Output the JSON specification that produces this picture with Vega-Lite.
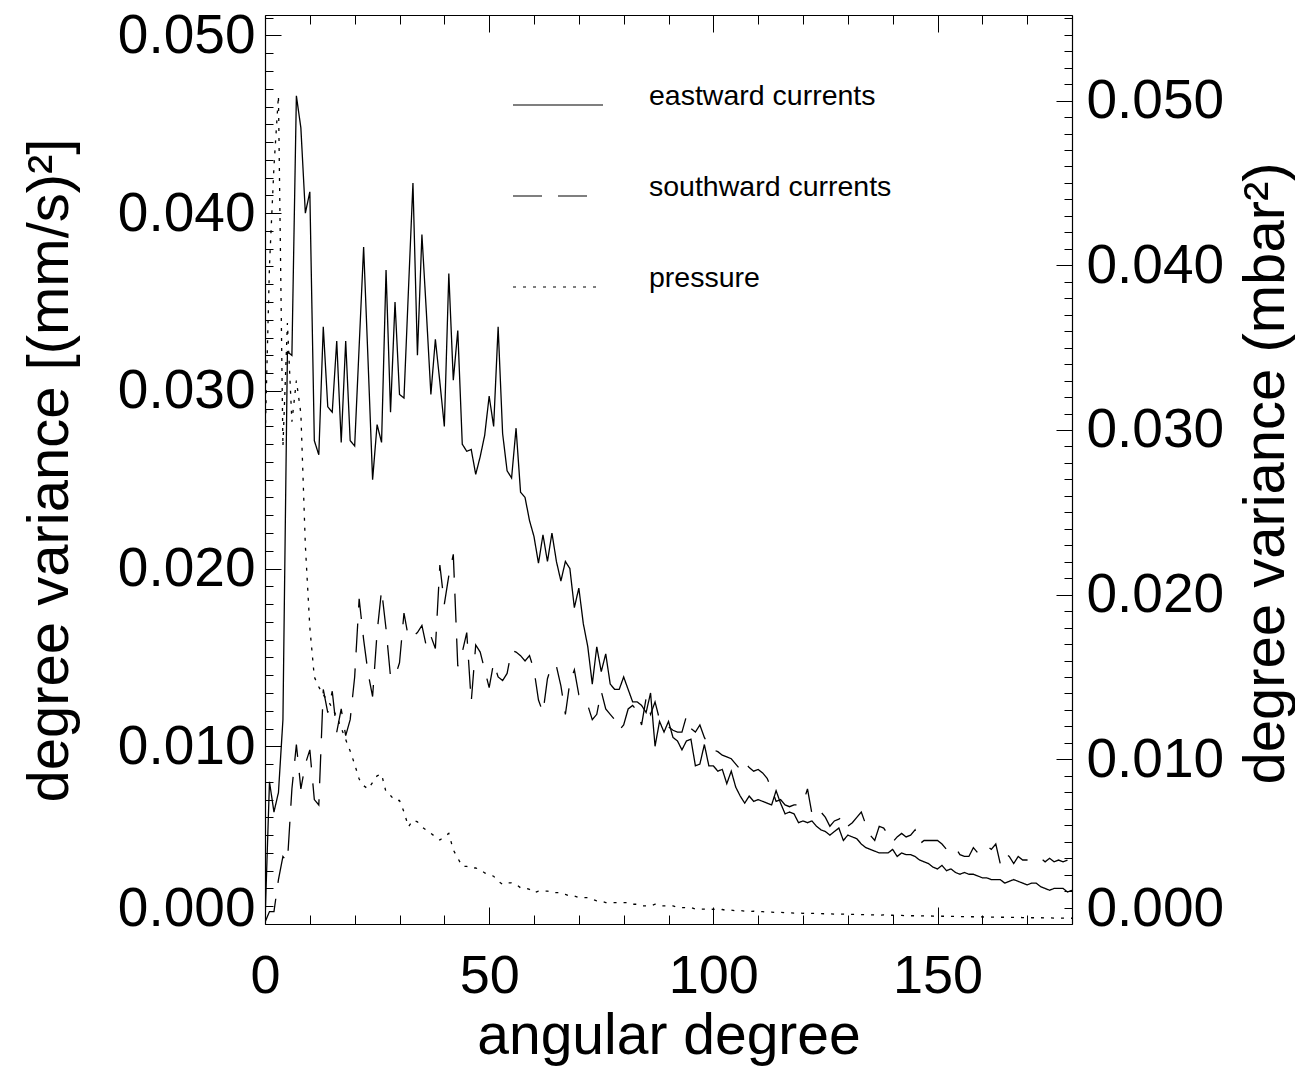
{
"$schema": "https://vega.github.io/schema/vega-lite/v6.json",
"width": 807, "height": 909,
"autosize": {"type": "none"},
"padding": {"left": 265, "top": 15, "right": 223, "bottom": 143},
"background": "white",
"config": {
 "view": {"stroke": null},
 "axis": {"labelFont": "Liberation Sans", "titleFont": "Liberation Sans", "labelColor": "black", "titleColor": "black", "domainColor": "black", "tickColor": "black", "titleFontWeight": "normal", "grid": false, "domainWidth": 1.2, "tickWidth": 1, "labelOverlap": false}
},
"data": {"values": [
{"d":0,"e":0.0001,"s":0.0001,"p":0.0292},
{"d":1,"e":0.0080,"s":0.0007,"p":0.0400},
{"d":2,"e":0.0063,"s":0.0007,"p":0.0460},
{"d":3,"e":0.0074,"s":0.0025,"p":0.0503},
{"d":4,"e":0.0115,"s":0.0038,"p":0.0290},
{"d":5,"e":0.0322,"s":0.0035,"p":0.0365},
{"d":6,"e":0.0320,"s":0.0076,"p":0.0305},
{"d":7,"e":0.0466,"s":0.0101,"p":0.0330},
{"d":8,"e":0.0448,"s":0.0076,"p":0.0310},
{"d":9,"e":0.0400,"s":0.0090,"p":0.0230},
{"d":10,"e":0.0412,"s":0.0098,"p":0.0180},
{"d":11,"e":0.0272,"s":0.0070,"p":0.0150},
{"d":12,"e":0.0264,"s":0.0067,"p":0.0144},
{"d":13,"e":0.0336,"s":0.0132,"p":0.0139},
{"d":14,"e":0.0291,"s":0.0119,"p":0.0136},
{"d":15,"e":0.0288,"s":0.0131,"p":0.0131},
{"d":16,"e":0.0328,"s":0.0108,"p":0.0126},
{"d":17,"e":0.0271,"s":0.0121,"p":0.0119},
{"d":18,"e":0.0328,"s":0.0106,"p":0.0112},
{"d":19,"e":0.0272,"s":0.0115,"p":0.0105},
{"d":20,"e":0.0269,"s":0.0139,"p":0.0097},
{"d":21,"e":0.0325,"s":0.0183,"p":0.0088},
{"d":22,"e":0.0381,"s":0.0160,"p":0.0084},
{"d":23,"e":0.0316,"s":0.0141,"p":0.0082},
{"d":24,"e":0.0250,"s":0.0128,"p":0.0086},
{"d":25,"e":0.0281,"s":0.0164,"p":0.0090},
{"d":26,"e":0.0271,"s":0.0188,"p":0.0091},
{"d":27,"e":0.0368,"s":0.0166,"p":0.0080},
{"d":28,"e":0.0288,"s":0.0139,"p":0.0078},
{"d":29,"e":0.0350,"s":0.0139,"p":0.0075},
{"d":30,"e":0.0298,"s":0.0147,"p":0.0075},
{"d":31,"e":0.0296,"s":0.0175,"p":0.0068},
{"d":32,"e":0.0357,"s":0.0161,"p":0.0059},
{"d":33,"e":0.0417,"s":0.0162,"p":0.0063},
{"d":34,"e":0.0320,"s":0.0164,"p":0.0062},
{"d":35,"e":0.0388,"s":0.0168,"p":0.0059},
{"d":36,"e":0.0344,"s":0.0156,"p":0.0057},
{"d":37,"e":0.0298,"s":0.0162,"p":0.0055},
{"d":38,"e":0.0329,"s":0.0155,"p":0.0053},
{"d":39,"e":0.0305,"s":0.0202,"p":0.0051},
{"d":40,"e":0.0280,"s":0.0180,"p":0.0053},
{"d":41,"e":0.0366,"s":0.0196,"p":0.0055},
{"d":42,"e":0.0306,"s":0.0208,"p":0.0045},
{"d":43,"e":0.0334,"s":0.0145,"p":0.0040},
{"d":44,"e":0.0270,"s":0.0153,"p":0.0035},
{"d":45,"e":0.0266,"s":0.0164,"p":0.0035},
{"d":46,"e":0.0267,"s":0.0125,"p":0.0034},
{"d":47,"e":0.0253,"s":0.0157,"p":0.0034},
{"d":48,"e":0.0263,"s":0.0153,"p":0.0033},
{"d":49,"e":0.0275,"s":0.0143,"p":0.0031},
{"d":50,"e":0.0297,"s":0.0133,"p":0.0030},
{"d":51,"e":0.0280,"s":0.0147,"p":0.0029},
{"d":52,"e":0.0336,"s":0.0139,"p":0.0026},
{"d":53,"e":0.0276,"s":0.0137,"p":0.0024},
{"d":54,"e":0.0255,"s":0.0141,"p":0.0025},
{"d":55,"e":0.0251,"s":0.0154,"p":0.0025},
{"d":56,"e":0.0279,"s":0.0153,"p":0.0024},
{"d":57,"e":0.0243,"s":0.0151,"p":0.0022},
{"d":58,"e":0.0240,"s":0.0148,"p":0.0022},
{"d":59,"e":0.0227,"s":0.0151,"p":0.0021},
{"d":60,"e":0.0218,"s":0.0143,"p":0.0019},
{"d":61,"e":0.0203,"s":0.0126,"p":0.0020},
{"d":62,"e":0.0219,"s":0.0119,"p":0.0020},
{"d":63,"e":0.0204,"s":0.0138,"p":0.0020},
{"d":64,"e":0.0220,"s":0.0146,"p":0.0019},
{"d":65,"e":0.0204,"s":0.0145,"p":0.0019},
{"d":66,"e":0.0193,"s":0.0134,"p":0.0019},
{"d":67,"e":0.0204,"s":0.0118,"p":0.0018},
{"d":68,"e":0.0200,"s":0.0136,"p":0.0017},
{"d":69,"e":0.0178,"s":0.0143,"p":0.0017},
{"d":70,"e":0.0189,"s":0.0129,"p":0.0016},
{"d":71,"e":0.0169,"s":0.0126,"p":0.0016},
{"d":72,"e":0.0156,"s":0.0123,"p":0.0016},
{"d":73,"e":0.0135,"s":0.0115,"p":0.0015},
{"d":74,"e":0.0156,"s":0.0118,"p":0.0014},
{"d":75,"e":0.0142,"s":0.0131,"p":0.0014},
{"d":76,"e":0.0152,"s":0.0121,"p":0.0013},
{"d":77,"e":0.0135,"s":0.0118,"p":0.0013},
{"d":78,"e":0.0132,"s":0.0115,"p":0.0013},
{"d":79,"e":0.0132,"s":0.0109,"p":0.0013},
{"d":80,"e":0.0139,"s":0.0112,"p":0.0013},
{"d":81,"e":0.0132,"s":0.0121,"p":0.0013},
{"d":82,"e":0.0125,"s":0.0123,"p":0.0012},
{"d":83,"e":0.0125,"s":0.0120,"p":0.0012},
{"d":84,"e":0.0123,"s":0.0112,"p":0.0011},
{"d":85,"e":0.0119,"s":0.0127,"p":0.0011},
{"d":86,"e":0.0130,"s":0.0118,"p":0.0011},
{"d":87,"e":0.0100,"s":0.0125,"p":0.0012},
{"d":88,"e":0.0114,"s":0.0115,"p":0.0011},
{"d":89,"e":0.0108,"s":0.0113,"p":0.0011},
{"d":90,"e":0.0114,"s":0.0111,"p":0.0011},
{"d":91,"e":0.0105,"s":0.0109,"p":0.0011},
{"d":92,"e":0.0103,"s":0.0108,"p":0.0010},
{"d":93,"e":0.0098,"s":0.0108,"p":0.0010},
{"d":94,"e":0.0103,"s":0.0117,"p":0.0010},
{"d":95,"e":0.0104,"s":0.0110,"p":0.0010},
{"d":96,"e":0.0089,"s":0.0108,"p":0.0009},
{"d":97,"e":0.0090,"s":0.0112,"p":0.0009},
{"d":98,"e":0.0101,"s":0.0105,"p":0.0009},
{"d":99,"e":0.0089,"s":0.0100,"p":0.00085},
{"d":100,"e":0.0089,"s":0.0098,"p":0.0009},
{"d":101,"e":0.0086,"s":0.0097,"p":0.00085},
{"d":102,"e":0.0087,"s":0.0095,"p":0.00088},
{"d":103,"e":0.0079,"s":0.0094,"p":0.00082},
{"d":104,"e":0.0086,"s":0.0093,"p":0.00085},
{"d":105,"e":0.0077,"s":0.0090,"p":0.0008},
{"d":106,"e":0.0072,"s":0.0087,"p":0.00082},
{"d":107,"e":0.0068,"s":0.0091,"p":0.00078},
{"d":108,"e":0.0072,"s":0.0088,"p":0.00076},
{"d":109,"e":0.0069,"s":0.0086,"p":0.00078},
{"d":110,"e":0.0070,"s":0.0087,"p":0.00074},
{"d":111,"e":0.0069,"s":0.0085,"p":0.00075},
{"d":112,"e":0.0068,"s":0.0082,"p":0.00072},
{"d":113,"e":0.0067,"s":0.0076,"p":0.00072},
{"d":114,"e":0.0075,"s":0.0069,"p":0.0007},
{"d":115,"e":0.0068,"s":0.0070,"p":0.00071},
{"d":116,"e":0.0062,"s":0.0067,"p":0.00068},
{"d":117,"e":0.0063,"s":0.0066,"p":0.00068},
{"d":118,"e":0.0062,"s":0.0067,"p":0.00066},
{"d":119,"e":0.0057,"s":0.0067,"p":0.00067},
{"d":120,"e":0.0058,"s":0.0068,"p":0.00065},
{"d":121,"e":0.0057,"s":0.0076,"p":0.00066},
{"d":122,"e":0.0058,"s":0.0062,"p":0.00064},
{"d":123,"e":0.0055,"s":0.0065,"p":0.00064},
{"d":124,"e":0.0053,"s":0.0063,"p":0.00063},
{"d":125,"e":0.0052,"s":0.0060,"p":0.00062},
{"d":126,"e":0.0050,"s":0.0055,"p":0.00062},
{"d":127,"e":0.0052,"s":0.0058,"p":0.0006},
{"d":128,"e":0.0054,"s":0.0059,"p":0.0006},
{"d":129,"e":0.0047,"s":0.0061,"p":0.0006},
{"d":130,"e":0.0050,"s":0.0055,"p":0.00059},
{"d":131,"e":0.0049,"s":0.0057,"p":0.00058},
{"d":132,"e":0.0048,"s":0.0060,"p":0.00058},
{"d":133,"e":0.0045,"s":0.0063,"p":0.00057},
{"d":134,"e":0.0043,"s":0.0056,"p":0.00056},
{"d":135,"e":0.0042,"s":0.0050,"p":0.00056},
{"d":136,"e":0.0041,"s":0.0047,"p":0.00055},
{"d":137,"e":0.0040,"s":0.0055,"p":0.00054},
{"d":138,"e":0.0040,"s":0.0054,"p":0.00055},
{"d":139,"e":0.0040,"s":0.0050,"p":0.00053},
{"d":140,"e":0.0042,"s":0.0046,"p":0.00053},
{"d":141,"e":0.0038,"s":0.0049,"p":0.00052},
{"d":142,"e":0.0040,"s":0.0051,"p":0.00052},
{"d":143,"e":0.0039,"s":0.0049,"p":0.00051},
{"d":144,"e":0.0039,"s":0.0050,"p":0.0005},
{"d":145,"e":0.0038,"s":0.0053,"p":0.0005},
{"d":146,"e":0.0036,"s":0.0045,"p":0.0005},
{"d":147,"e":0.0035,"s":0.0047,"p":0.00049},
{"d":148,"e":0.0034,"s":0.0047,"p":0.00049},
{"d":149,"e":0.0032,"s":0.0047,"p":0.00048},
{"d":150,"e":0.0031,"s":0.0047,"p":0.00048},
{"d":151,"e":0.0033,"s":0.0045,"p":0.00047},
{"d":152,"e":0.0030,"s":0.0042,"p":0.00047},
{"d":153,"e":0.0031,"s":0.0044,"p":0.00046},
{"d":154,"e":0.0029,"s":0.0043,"p":0.00046},
{"d":155,"e":0.0028,"s":0.0039,"p":0.00045},
{"d":156,"e":0.0029,"s":0.0038,"p":0.00045},
{"d":157,"e":0.0028,"s":0.0038,"p":0.00044},
{"d":158,"e":0.0028,"s":0.0043,"p":0.00044},
{"d":159,"e":0.0027,"s":0.0040,"p":0.00043},
{"d":160,"e":0.0026,"s":0.0041,"p":0.00043},
{"d":161,"e":0.0026,"s":0.0044,"p":0.00042},
{"d":162,"e":0.0025,"s":0.0042,"p":0.00042},
{"d":163,"e":0.0025,"s":0.0045,"p":0.00041},
{"d":164,"e":0.0025,"s":0.0034,"p":0.00041},
{"d":165,"e":0.0023,"s":0.0040,"p":0.00041},
{"d":166,"e":0.0024,"s":0.0038,"p":0.0004},
{"d":167,"e":0.0025,"s":0.0034,"p":0.0004},
{"d":168,"e":0.0024,"s":0.0038,"p":0.0004},
{"d":169,"e":0.0023,"s":0.0036,"p":0.00039},
{"d":170,"e":0.0022,"s":0.0036,"p":0.00039},
{"d":171,"e":0.0023,"s":0.0036,"p":0.00038},
{"d":172,"e":0.0023,"s":0.0037,"p":0.00038},
{"d":173,"e":0.0021,"s":0.0037,"p":0.00038},
{"d":174,"e":0.0020,"s":0.0035,"p":0.00037},
{"d":175,"e":0.0019,"s":0.0037,"p":0.00037},
{"d":176,"e":0.0020,"s":0.0035,"p":0.00036},
{"d":177,"e":0.0020,"s":0.0036,"p":0.00036},
{"d":178,"e":0.0020,"s":0.0035,"p":0.00036},
{"d":179,"e":0.0018,"s":0.0036,"p":0.00035},
{"d":180,"e":0.0019,"s":0.0036,"p":0.00035}
]},
"layer": [
 {
  "transform": [{"fold": ["e", "s"], "as": ["series", "value"]}],
  "mark": {"type": "line", "color": "black", "strokeWidth": 1.3, "clip": true},
  "encoding": {
   "x": {"field": "d", "type": "quantitative",
    "scale": {"domain": [0, 180], "nice": false, "zero": false},
    "axis": {"orient": "bottom", "values": [0,10,20,30,40,50,60,70,80,90,100,110,120,130,140,150,160,170,180],
     "labelExpr": "datum.value % 50 === 0 ? datum.label : ''",
     "tickSize": {"condition": {"test": "datum.value % 50 === 0", "value": -17}, "value": -9},
     "labelFontSize": 54, "labelPadding": 42, "labelFlush": false,
     "title": "angular degree", "titleFontSize": 57, "titleX": 403.5, "titleY": 129, "titleBaseline": "alphabetic", "titleAlign": "center"}},
   "y": {"field": "value", "type": "quantitative",
    "scale": {"domain": [0, 0.05115], "nice": false, "zero": false},
    "axis": {"orient": "left", "values": [0,0.001,0.002,0.003,0.004,0.005,0.006,0.007,0.008,0.009,0.01,0.011,0.012,0.013,0.014,0.015,0.016,0.017,0.018,0.019,0.02,0.021,0.022,0.023,0.024,0.025,0.026,0.027,0.028,0.029,0.03,0.031,0.032,0.033,0.034,0.035,0.036,0.037,0.038,0.039,0.04,0.041,0.042,0.043,0.044,0.045,0.046,0.047,0.048,0.049,0.05,0.051],
     "labelExpr": "round(datum.value*1000) % 10 === 0 ? format(datum.value, '.3f') : ''",
     "tickSize": {"condition": {"test": "round(datum.value*1000) % 10 === 0", "value": -16}, "value": -8},
     "labelOffset": {"condition": {"test": "datum.value === 0", "value": -16}, "value": 0},
     "labelFontSize": 55, "labelPadding": 26, "labelFlush": false,
     "title": "degree variance [(mm/s)²]", "titleFontSize": 58, "titleAngle": 270, "titleX": -198, "titleY": 455, "titleBaseline": "alphabetic", "titleAlign": "center"}},
   "strokeDash": {"field": "series", "type": "nominal",
    "scale": {"domain": ["e", "s", "p"], "range": [[1, 0], [29, 16], [3, 7]]},
    "legend": {"orient": "none", "legendX": 247, "legendY": 44, "title": null, "padding": 0,
     "symbolType": "stroke", "symbolSize": 8100, "symbolStrokeWidth": 1.2, "symbolStrokeColor": "black",
     "labelFont": "Liberation Sans", "labelFontSize": 28.5, "labelColor": "black", "labelOffset": 45, "labelLimit": 600, "rowPadding": 39, "labelBaseline": "alphabetic",
     "labelExpr": "datum.value === 'e' ? 'eastward currents' : datum.value === 's' ? 'southward currents' : 'pressure'"}}
  }
 },
 {
  "transform": [{"fold": ["p"], "as": ["series", "value"]}],
  "mark": {"type": "line", "color": "black", "strokeWidth": 1.3, "clip": true},
  "encoding": {
   "x": {"field": "d", "type": "quantitative",
    "axis": {"orient": "top", "values": [0,10,20,30,40,50,60,70,80,90,100,110,120,130,140,150,160,170,180],
     "labels": false, "title": null,
     "tickSize": {"condition": {"test": "datum.value % 50 === 0", "value": -17}, "value": -9}}},
   "y": {"field": "value", "type": "quantitative",
    "scale": {"domain": [0, 0.0552], "nice": false, "zero": false},
    "axis": {"orient": "right", "values": [0,0.001,0.002,0.003,0.004,0.005,0.006,0.007,0.008,0.009,0.01,0.011,0.012,0.013,0.014,0.015,0.016,0.017,0.018,0.019,0.02,0.021,0.022,0.023,0.024,0.025,0.026,0.027,0.028,0.029,0.03,0.031,0.032,0.033,0.034,0.035,0.036,0.037,0.038,0.039,0.04,0.041,0.042,0.043,0.044,0.045,0.046,0.047,0.048,0.049,0.05,0.051,0.052,0.053,0.054,0.055],
     "labelExpr": "round(datum.value*1000) % 10 === 0 ? format(datum.value, '.3f') : ''",
     "tickSize": {"condition": {"test": "round(datum.value*1000) % 10 === 0", "value": -16}, "value": -8},
     "labelOffset": {"condition": {"test": "datum.value === 0", "value": -16}, "value": 0},
     "labelFontSize": 55, "labelPadding": 30, "labelFlush": false,
     "title": "degree variance (mbar²)", "titleFontSize": 58, "titleAngle": 270, "titleX": 211, "titleY": 458, "titleBaseline": "alphabetic", "titleAlign": "center"}},
   "strokeDash": {"field": "series", "type": "nominal",
    "scale": {"domain": ["e", "s", "p"], "range": [[1, 0], [29, 16], [3, 7]]}}
  }
 }
],
"resolve": {"scale": {"y": "independent"}, "axis": {"x": "independent"}}
}
